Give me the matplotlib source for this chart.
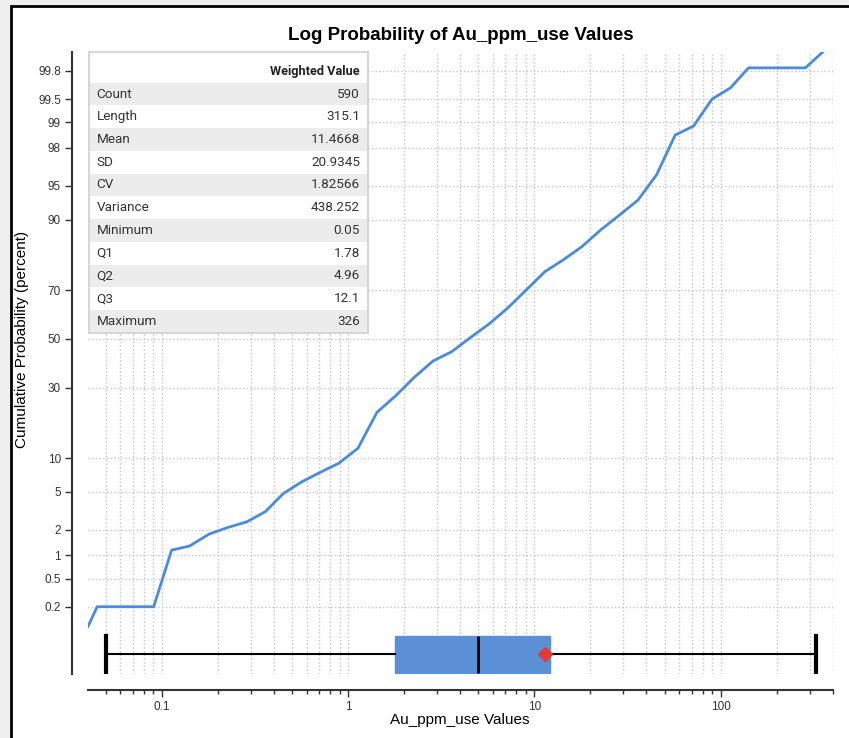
from statistics import NormalDist

import numpy as np
import matplotlib
matplotlib.use("Agg")
import matplotlib.pyplot as plt
from matplotlib.patches import Rectangle
from matplotlib.ticker import FixedLocator, LogLocator, NullFormatter

plt.rcParams['font.family'] = ['Liberation Sans', 'DejaVu Sans']

# ---- Cumulative (weighted) probability curve ----
au_values = [0.0402, 0.045, 0.057, 0.072, 0.0905, 0.113, 0.141, 0.179, 0.224,
             0.287, 0.36, 0.451, 0.566, 0.71, 0.891, 1.13, 1.43, 1.80, 2.27,
             2.86, 3.60, 4.53, 5.70, 7.18, 9.04, 11.4, 14.3, 18.0, 22.7, 28.6,
             36.0, 45.3, 57.0, 71.6, 89.9, 113, 141, 178, 226, 285, 357]
cum_pct = [0.1, 0.2, 0.2, 0.2, 0.2, 1.16, 1.3, 1.79, 2.12, 2.47, 3.17, 4.85,
           6.24, 7.58, 9.05, 11.98, 21.5, 27.0, 34.0, 40.6, 44.5, 50.5, 56.3,
           62.9, 70.0, 76.5, 80.2, 83.9, 87.9, 90.8, 93.2, 96.1, 98.57, 98.89,
           99.5, 99.65, 99.82, 99.82, 99.82, 99.82, 99.9]

# ---- Summary statistics ----
stat_names = ['Count', 'Length', 'Mean', 'SD', 'CV', 'Variance', 'Minimum',
              'Q1', 'Q2', 'Q3', 'Maximum']
stat_values = ['590', '315.1', '11.4668', '20.9345', '1.82566', '438.252',
               '0.05', '1.78', '4.96', '12.1', '326']
box_min, box_q1, box_med, box_q3, box_max = 0.05, 1.78, 4.96, 12.1, 326
box_mean = 11.4668

# probability axis ticks (percent)
prob_ticks = [0.2, 0.5, 1, 2, 5, 10, 30, 50, 70, 90, 95, 98, 99, 99.5, 99.8]
prob_labels = ['0.2', '0.5', '1', '2', '5', '10', '30', '50', '70', '90',
               '95', '98', '99', '99.5', '99.8']

LINE_COLOR = '#4a8bdb'
BOX_COLOR = '#5b90d7'
GRID_COLOR = '#c4c4c4'
SPINE_COLOR = '#333333'

nd = NormalDist()


def to_z(pct):
    """Percent -> standard normal quantile (normal probability paper)."""
    return np.array([nd.inv_cdf(p / 100.0) for p in np.atleast_1d(pct)])


W, H = 849, 738
fig = plt.figure(figsize=(W / 100, H / 100), dpi=100, facecolor='#efefef')

# window frame: white canvas with a black edge on top/left
fig.add_artist(Rectangle((11 / W, -0.05), 1.1, 1.05 - 6.5 / H,
                         transform=fig.transFigure, facecolor='white',
                         edgecolor='black', linewidth=2, zorder=-5))

ax_l, ax_r, ax_t, ax_b = 88, 833, 51.7, 674
ax = fig.add_axes([ax_l / W, 1 - ax_b / H, (ax_r - ax_l) / W, (ax_b - ax_t) / H])
ax.set_facecolor('none')

ax.plot(au_values, to_z(cum_pct), color=LINE_COLOR, linewidth=2, zorder=3,
        solid_joinstyle='round')

# box plot below the probability curve
box_pos = -3.39
stats = [dict(whislo=box_min, q1=box_q1, med=box_med, q3=box_q3,
              whishi=box_max, mean=box_mean, fliers=[])]
ax.bxp(stats, positions=[box_pos], widths=0.39, orientation='horizontal',
       patch_artist=True, showmeans=True, showfliers=False,
       capwidths=0.39,
       boxprops=dict(facecolor=BOX_COLOR, edgecolor=BOX_COLOR, linewidth=1),
       medianprops=dict(color='black', linewidth=2),
       whiskerprops=dict(color='black', linewidth=1.5),
       capprops=dict(color='black', linewidth=3),
       meanprops=dict(marker='D', markerfacecolor='#e53935',
                      markeredgecolor='#e53935', markersize=7),
       manage_ticks=False, zorder=3)

ax.set_xscale('log')
ax.set_xlim(0.0402, 401)
ax.set_ylim(-3.601, 3.085)

ax.yaxis.set_major_locator(FixedLocator(to_z(prob_ticks)))
ax.set_yticklabels(prob_labels)
ax.xaxis.set_major_locator(FixedLocator([0.1, 1, 10, 100]))
ax.set_xticklabels(['0.1', '1', '10', '100'])
ax.xaxis.set_minor_locator(LogLocator(base=10, subs=np.arange(2, 10), numticks=20))
ax.xaxis.set_minor_formatter(NullFormatter())

ax.grid(True, which='both', axis='x', color=GRID_COLOR, linestyle=':', linewidth=1)
ax.grid(True, which='major', axis='y', color=GRID_COLOR, linestyle=':', linewidth=1)
ax.set_axisbelow(True)

for side in ('top', 'right'):
    ax.spines[side].set_visible(False)
for side in ('left', 'bottom'):
    ax.spines[side].set_position(('outward', 11.5))
    ax.spines[side].set_color(SPINE_COLOR)
    ax.spines[side].set_linewidth(1.5)

ax.tick_params(axis='y', length=5, width=1, color=SPINE_COLOR,
               labelsize=8.5, labelcolor='#333333', pad=3)
ax.tick_params(axis='x', which='major', length=5, width=1, color=SPINE_COLOR,
               labelsize=8.5, labelcolor='#333333', pad=3)
ax.tick_params(axis='x', which='minor', length=3, width=1, color=SPINE_COLOR)

fig.text(460.5 / W, 1 - 36 / H, 'Log Probability of Au_ppm_use Values',
         ha='center', va='center', fontsize=13.5, fontweight='bold')
fig.text(22 / W, 1 - 339 / H, 'Cumulative Probability (percent)',
         ha='center', va='center', rotation=90, fontsize=11)
fig.text(460 / W, 1 - 720 / H, 'Au_ppm_use Values',
         ha='center', va='center', fontsize=11)

# ---- statistics table overlay ----
t_l, t_r, t_t, t_b = 89, 368, 51.7, 332.7
tab = fig.add_axes([t_l / W, 1 - t_b / H, (t_r - t_l) / W, (t_b - t_t) / H])
tw, th = t_r - t_l, t_b - t_t
tab.set_xlim(0, tw)
tab.set_ylim(th, 0)
tab.set_xticks([])
tab.set_yticks([])
tab.set_facecolor('white')
for sp in tab.spines.values():
    sp.set_color('#d6d6d6')
    sp.set_linewidth(1.5)

header_h = 31
row_h = (th - header_h) / len(stat_names)
tab_font = ['Roboto', 'DejaVu Sans']
tab.text(tw - 8, 19.5, 'Weighted Value', ha='right', va='center',
         fontsize=9.2, fontweight='bold', color='#222222', family=tab_font)
for i, (name, val) in enumerate(zip(stat_names, stat_values)):
    y0 = header_h + i * row_h
    if i % 2 == 0:
        tab.add_patch(Rectangle((1, y0), tw - 2, row_h, facecolor='#ececec',
                                edgecolor='none'))
    tab.text(7.5, y0 + row_h / 2, name, ha='left', va='center', fontsize=9.7,
             color='#333333', family=tab_font)
    tab.text(tw - 8, y0 + row_h / 2, val, ha='right', va='center',
             fontsize=9.7, color='#333333', family=tab_font)

fig.savefig('out.png', dpi=100, facecolor=fig.get_facecolor())
